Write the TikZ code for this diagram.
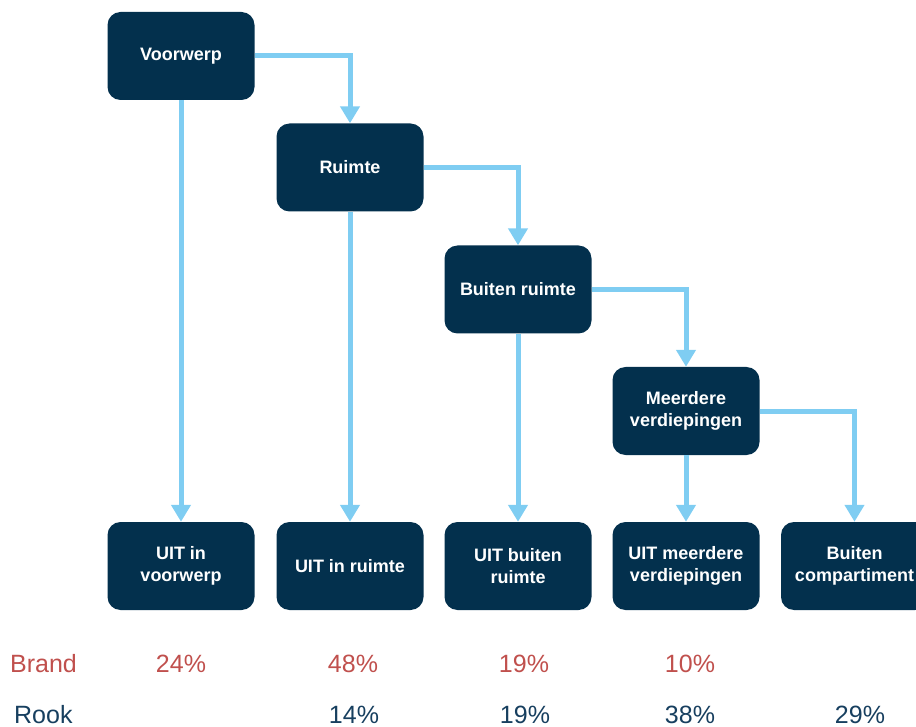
\documentclass[tikz,border=0pt]{standalone}
\usepackage{fontspec}
\setmainfont{Liberation Sans}
\usetikzlibrary{arrows.meta}
\definecolor{boxnavy}{RGB}{3,48,77}
\definecolor{arrowblue}{RGB}{127,205,242}
\definecolor{brandred}{RGB}{192,80,77}
\definecolor{rooknavy}{RGB}{23,63,95}
\tikzset{
  stepbox/.style={draw=none, fill=boxnavy, rounded corners=13pt, minimum width=147pt, minimum height=88pt,
    inner sep=0pt, text=white, align=center, font=\fontsize{18}{22}\selectfont\bfseries},
  flow/.style={draw=arrowblue, line width=5pt, -{Triangle[width=19pt,length=17pt]}},
  brandtxt/.style={text=brandred, font=\fontsize{25}{28}\selectfont, inner sep=0pt},
  rooktxt/.style={text=rooknavy, font=\fontsize{25}{28}\selectfont, inner sep=0pt}
}
\begin{document}
\begin{tikzpicture}[x=1pt,y=-1pt]
\useasboundingbox (0,0) rectangle (916,727);
\clip (0,0) rectangle (916,727);
\node[stepbox] (v) at (181,56) {Voorwerp};
\node[stepbox] (r) at (350,167.5) {Ruimte};
\node[stepbox] (b) at (518,289.5) {Buiten ruimte};
\node[stepbox] (m) at (686,411) {Meerdere\\verdiepingen};
\node[stepbox] (o1) at (181,566) {UIT in\\voorwerp};
\node[stepbox] (o2) at (350,566) {UIT in ruimte};
\node[stepbox] (o3) at (518,566) {UIT buiten\\ruimte};
\node[stepbox] (o4) at (686,566) {UIT meerdere\\verdiepingen};
\node[stepbox] (o5) at (854.5,566) {Buiten\\compartiment};
\draw[flow] (v.east) -| (r.north);
\draw[flow] (r.east) -| (b.north);
\draw[flow] (b.east) -| (m.north);
\draw[flow] (m.east) -| (o5.north);
\draw[flow] (v.south) -- (o1.north);
\draw[flow] (r.south) -- (o2.north);
\draw[flow] (b.south) -- (o3.north);
\draw[flow] (m.south) -- (o4.north);
\node[brandtxt, anchor=west] (brand) at (10,664) {Brand};
\node[brandtxt] (b1) at (181,664) {24\%};
\node[brandtxt] (b2) at (353,664) {48\%};
\node[brandtxt] (b3) at (524,664) {19\%};
\node[brandtxt] (b4) at (690,664) {10\%};
\node[rooktxt, anchor=west] (rook) at (14,715) {Rook};
\node[rooktxt] (r2) at (354,715) {14\%};
\node[rooktxt] (r3) at (525,715) {19\%};
\node[rooktxt] (r4) at (690,715) {38\%};
\node[rooktxt] (r5) at (860,715) {29\%};
\end{tikzpicture}
\end{document}
